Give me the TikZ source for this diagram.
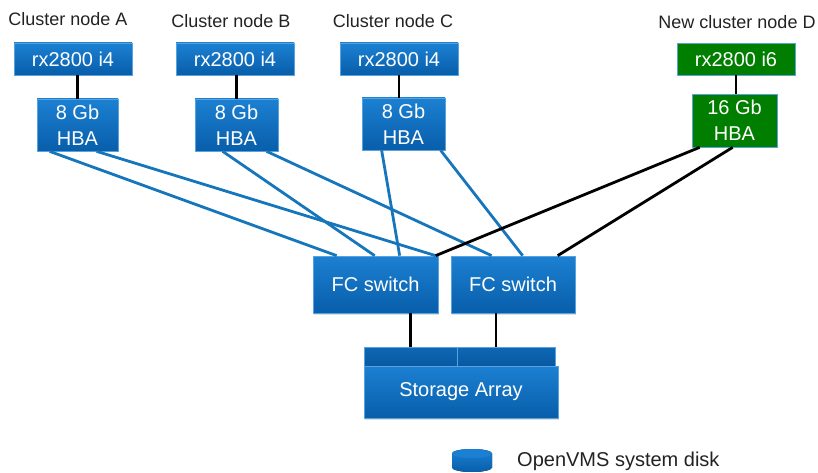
\documentclass[tikz,border=0pt]{standalone}
\usepackage{fontspec}
\setmainfont{Liberation Sans}
\usetikzlibrary{shadows}
\definecolor{boxtop}{RGB}{28,128,210}
\definecolor{boxbot}{RGB}{8,94,170}
\definecolor{boxedge}{RGB}{88,162,222}
\definecolor{disktop}{RGB}{14,104,182}
\definecolor{diskbot}{RGB}{8,88,160}
\definecolor{linkblue}{RGB}{22,118,188}
\definecolor{hpgreen}{RGB}{0,126,0}
\definecolor{labelgray}{RGB}{34,34,34}
\begin{document}
\begin{tikzpicture}[x=1pt,y=-1pt,
  lbl/.style={font=\fontsize{18}{21}\selectfont, text=labelgray, inner sep=0pt},
  bluebox/.style={draw=boxedge, line width=0.7pt, top color=boxtop, bottom color=boxbot,
    text=white, inner sep=0pt, align=center, font=\fontsize{20}{26}\selectfont,
    drop shadow={opacity=0.25, shadow xshift=1.2pt, shadow yshift=-1.5pt}},
  greenbox/.style={draw=boxedge, line width=0.7pt, fill=hpgreen,
    text=white, inner sep=0pt, align=center, font=\fontsize{20}{26}\selectfont,
    drop shadow={opacity=0.25, shadow xshift=1.2pt, shadow yshift=-1.5pt}},
  server/.style={minimum width=118pt, minimum height=32pt},
  hba/.style={minimum width=83pt, minimum height=52pt},
  switchbox/.style={minimum width=125pt, minimum height=57pt},
  diskcap/.style={draw=boxedge, line width=0.5pt, top color=disktop, bottom color=diskbot,
    inner sep=0pt, minimum height=19pt},
  bluelink/.style={draw=linkblue, line width=2.8pt},
  blacklink/.style={draw=black, line width=2.8pt}
]
\useasboundingbox (0,0) rectangle (818,473);

% labels
\node[lbl] (lblA) at (68,19) {Cluster node A};
\node[lbl] (lblB) at (231,21) {Cluster node B};
\node[lbl] (lblC) at (393,21) {Cluster node C};
\node[lbl] (lblD) at (737,22) {New cluster node D};

% servers
\node[bluebox, server] (srvA) at (73,59) {rx2800 i4};
\node[bluebox, server] (srvB) at (235,59) {rx2800 i4};
\node[bluebox, server] (srvC) at (399,59) {rx2800 i4};
\node[greenbox, server] (srvD) at (736,59) {rx2800 i6};

% HBAs
\node[bluebox, hba, minimum width=81pt] (hbaA) at (77.5,125) {8 Gb\\HBA};
\node[bluebox, hba] (hbaB) at (236.5,125) {8 Gb\\HBA};
\node[bluebox, hba] (hbaC) at (403.5,124) {8 Gb\\HBA};
\node[greenbox, hba, minimum width=85pt, minimum height=53pt] (hbaD) at (734.5,120.5) {16 Gb\\HBA};

% switches
\node[bluebox, switchbox] (swL) at (375.5,284.5) {FC switch};
\node[bluebox, switchbox, minimum width=124pt] (swR) at (513,284.5) {FC switch};

% storage array
\node[diskcap, minimum width=93pt] (diskL) at (410.5,356.5) {};
\node[diskcap, minimum width=98pt] (diskR) at (506,356.5) {};
\node[bluebox, minimum width=194pt, minimum height=52pt] (array) at (461,392) {Storage Array};

% server to HBA
\draw[blacklink] (hbaA.north |- srvA.south) -- (hbaA.north);
\draw[blacklink] (hbaB.north |- srvB.south) -- (hbaB.north);
\draw[blacklink] (srvC.south) -- (srvC.south |- hbaC.north);
\draw[blacklink] (srvD.south) -- (srvD.south |- hbaD.north);

% HBA to switches
\draw[bluelink] ([xshift=13pt]hbaA.south west) -- ([xshift=24pt]swL.north west);
\draw[bluelink] ([xshift=60pt]hbaA.south west) -- ([xshift=123pt]swL.north west);
\draw[bluelink] ([xshift=28pt]hbaB.south west) -- ([xshift=62pt]swL.north west);
\draw[bluelink] ([xshift=72pt]hbaB.south west) -- ([xshift=41pt]swR.north west);
\draw[bluelink] ([xshift=20pt]hbaC.south west) -- ([xshift=87pt]swL.north west);
\draw[bluelink] ([xshift=79pt]hbaC.south west) -- ([xshift=72pt]swR.north west);
\draw[blacklink] ([xshift=8pt]hbaD.south west) -- ([xshift=123pt]swL.north west);
\draw[blacklink] ([xshift=41pt]hbaD.south west) -- ([xshift=107pt]swR.north west);

% switches to storage
\coordinate (rdrop) at (496,347);
\draw[blacklink] (swL.south -| diskL.north) -- (diskL.north);
\draw[blacklink] (swR.south -| rdrop) -- (rdrop);

% legend
\fill[top color=boxtop, bottom color=boxbot]
  (452,453.5) -- (452,467.5) arc[start angle=180, end angle=0, x radius=20, y radius=4.5]
  -- (492,453.5) arc[start angle=360, end angle=180, x radius=20, y radius=4.5] -- cycle;
\fill[boxtop] (472,453.5) ellipse[x radius=20, y radius=4.5];
\node[lbl, anchor=west, font=\fontsize{20}{24}\selectfont] (legtext) at (517,461) {OpenVMS system disk};
\end{tikzpicture}
\end{document}
